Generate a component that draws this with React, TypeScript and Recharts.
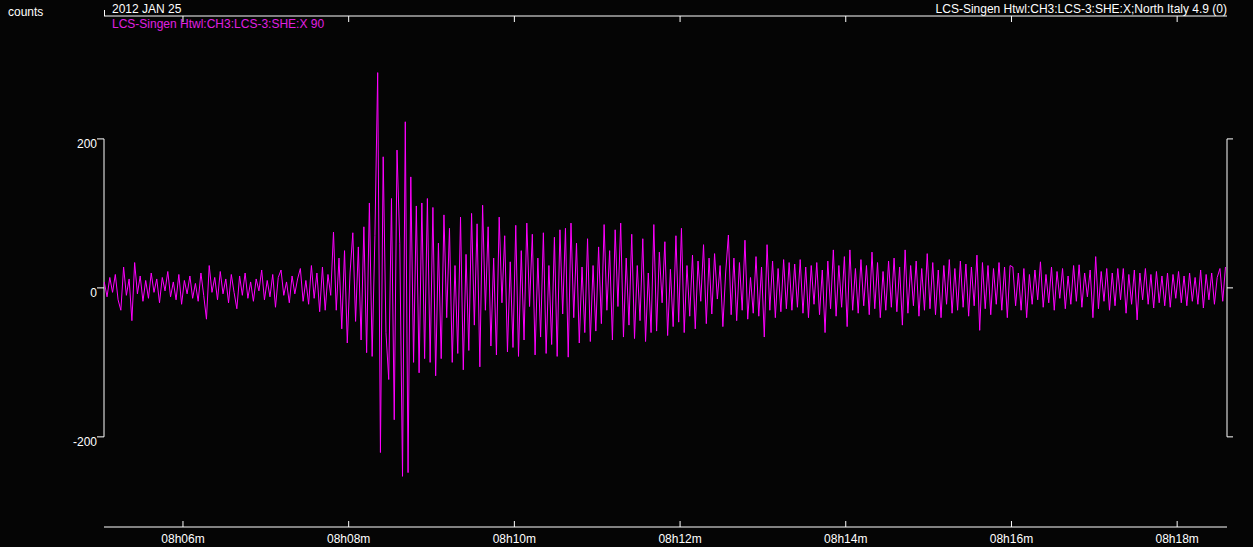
import { LineChart, Line, XAxis, YAxis, ReferenceLine } from "recharts";

// seismogram samples, counts, one every DT seconds
const DT = 2;

// time axis in seconds after 08:00:00
const X_MIN = 302.8;
const X_MAX = 1116.1;
const Y_MIN = -321;
const Y_MAX = 365;

const minuteTicks = [360, 480, 600, 720, 840, 960, 1080];
const minuteLabels = ["08h06m", "08h08m", "08h10m", "08h12m", "08h14m", "08h16m", "08h18m"];
const countTicks = [-200, 0, 200];
const countLabels = ["-200", "0", "200"];

const preEvent = [
  8, -12, 14, -6, 18, -16, -30, 28, -10, 12,
  -44, 34, -8, 16, -18, 10, -14, 20, -6, 12,
  -20, 14, -4, 22, -12, 8, -16, 18, -22, 10,
  -8, 16, -14, 6, -18, 20, -10, -42, 30, -6,
  14, -16, 22, -8, 12, -20, 18, -6, -28, 16,
  -10, 20, -14, 8, -18, 12, -4, 24, -16, 10,
  -12, 18, -26, 14, 24, -10, 8, -20, 16, -8,
  12, 26, -18, 10, -22, 30, -14, 20, -32, 28,
  -30, 18,
];

const pWave = [-10, 75, -30, 40, -55, 50, -74, 20, 74, -45, 55, -70, 82, -87, 114, -92];

const sWave = [
  70, 289, -221, 176, -60, -123, 120, -177, 185, 60,
  -253, 223, -248, 149, -100, 110, -114, 114, -95, 120,
  -100,
];

const coda1 = [
  108, -118, 60, -95, 98, -40, 80, -100, 30, -88,
  95, -110, 45, -84, 100, -50, 86, -106, 111, -30,
  82, -78, 40, -90, 95, -20, 70, -86, 35, -80,
  84, -92, 50, -70, 87, -25, 72, -90, 40, -66,
  74, -88, 30, -76, 68, -92, 78, -35, 80, -93,
  87, -40, 60, -74, 28, -60, 66, -72, 30, -58,
];

const coda2 = [
  55, -48, 85, -30, 50, -70, 78, -25, 87, -66,
  40, -50, 72, -68, 30, -44, 66, -72, 20, -60,
  85, -58, 48, -20, 62, -64, 25, -52, 70, -46,
  80, -60, 30, -38, 44, -55, 36, -18, 58, -48,
  40, -35, 46, -15, 30, -52, 20, 71, -36, 40,
  -44, 34, -30, 64, -42, 14, -34, 42, -38, 28,
  -66, 58, -30, 36, -40, 26, -32, 38, -28, 34,
];

const coda3 = [
  -30, 32, -26, 38, -34, 28, -40, 30, -22, 34,
  -36, 24, -60, 36, -28, 51, -38, 30, -26, 42,
  -52, 51, -30, 26, -34, 38, -24, 30, -36, 48,
  -28, 34, -40, 22, -30, 36, -26, 40, -32, 28,
  -50, 51, -34, 30, -24, 36, -38, 26, -30, 46,
  -28, 34, -36, 24, -40, 30, -22, 38, -34, 26,
  -30, 36, -26, 32, -38, 28, -24, 44, -57, 34,
  -28, 30, -36, 26, -22, 34, -30, 28, -40, 30,
];

const tail = [
  28, -24, 20, -30, 26, -40, 18, -22, 24, -16,
  35, -26, 18, -20, 28, -30, 22, -14, 26, -28,
  16, -22, 30, -18, 31, -26, 20, -12, 24, -40,
  42, -28, 22, -18, 26, -30, 20, -24, 26, -16,
  26, -34, 18, -22, 24, -43, 20, -16, 26, -22,
  18, -27, 22, -20, 16, -24, 20, -26, 18, -14,
  22, -20, 16, -24, 20, -18, 14, -22, 24, -27,
  18, -16, 20, -22, 14, 26, -18, 28,
];

// start time (s after 08:00) of each block of samples
const segments: [number, number[]][] = [
  [303, preEvent],
  [467, pWave],
  [499, sWave],
  [541, coda1],
  [661, coda2],
  [801, coda3],
  [961, tail],
];

const data = segments.flatMap(([start, values]) =>
  values.map((v, i) => ({ t: start + i * DT, counts: v }))
);

const FONT = "'Liberation Sans', Arial, sans-serif";
const WHITE = "#ffffff";
const MAGENTA = "#ff00ff";

function minuteLabel(value: number) {
  return minuteLabels[minuteTicks.indexOf(value)] ?? "";
}

function countLabel(value: number) {
  return countLabels[countTicks.indexOf(value)] ?? String(value);
}

const BottomTick = (props: any) => {
  const { x, y, payload } = props;
  return (
    <g>
      <line x1={x} x2={x} y1={y} y2={y - 6} stroke={WHITE} />
      <text x={x} y={y + 16} textAnchor="middle" fill={WHITE} fontSize={12} fontFamily={FONT}>
        {minuteLabel(payload.value)}
      </text>
    </g>
  );
};

const TopTick = (props: any) => {
  const { x, y } = props;
  return <line x1={x} x2={x} y1={y} y2={y + 6} stroke={WHITE} />;
};

const LeftTick = (props: any) => {
  const { x, y, payload } = props;
  return (
    <g>
      <line x1={x - 7} x2={x} y1={y} y2={y} stroke={WHITE} />
      <text x={x - 7} y={y + 9} textAnchor="end" fill={WHITE} fontSize={12} fontFamily={FONT}>
        {countLabel(payload.value)}
      </text>
    </g>
  );
};

const RightTick = (props: any) => {
  const { x, y } = props;
  return <line x1={x} x2={x + 6} y1={y} y2={y} stroke={WHITE} />;
};

export default function App() {
  return (
    <div style={{ position: "relative", width: 1253, height: 547, background: "#050505", fontFamily: FONT }}>
      <style>{"body{margin:0;background:#050505}"}</style>
      <LineChart width={1253} height={547} data={data} margin={{ top: 0, right: 0, bottom: 0, left: 0 }}>
        <XAxis
          dataKey="t"
          type="number"
          domain={[X_MIN, X_MAX]}
          allowDataOverflow
          ticks={minuteTicks}
          interval={0}
          height={20}
          axisLine={{ stroke: WHITE }}
          tickLine={false}
          tickSize={0}
          tickMargin={0}
          tick={BottomTick}
        />
        <XAxis
          xAxisId="top"
          orientation="top"
          dataKey="t"
          type="number"
          domain={[X_MIN, X_MAX]}
          allowDataOverflow
          ticks={minuteTicks}
          interval={0}
          height={16}
          axisLine={{ stroke: WHITE }}
          tickLine={false}
          tickSize={0}
          tickMargin={0}
          tick={TopTick}
        />
        <YAxis
          type="number"
          domain={[Y_MIN, Y_MAX]}
          allowDataOverflow
          ticks={countTicks}
          interval={0}
          width={104}
          axisLine={false}
          tickLine={false}
          tickSize={0}
          tickMargin={0}
          tick={LeftTick}
        />
        <YAxis
          yAxisId="right"
          orientation="right"
          type="number"
          domain={[Y_MIN, Y_MAX]}
          allowDataOverflow
          ticks={countTicks}
          interval={0}
          width={26}
          axisLine={false}
          tickLine={false}
          tickSize={0}
          tickMargin={0}
          tick={RightTick}
        />
        <ReferenceLine
          segment={[{ x: X_MIN, y: -200 }, { x: X_MIN, y: 200 }]}
          stroke={WHITE}
          ifOverflow="visible"
        />
        <ReferenceLine
          segment={[{ x: X_MAX, y: -200 }, { x: X_MAX, y: 200 }]}
          stroke={WHITE}
          ifOverflow="visible"
        />
        <Line
          type="linear"
          dataKey="counts"
          stroke={MAGENTA}
          strokeWidth={1}
          dot={false}
          activeDot={false}
          isAnimationActive={false}
        />
      </LineChart>
      <svg
        width={1253}
        height={547}
        style={{ position: "absolute", left: 0, top: 0, pointerEvents: "none" }}
      >
        <text x={8} y={16} fill={WHITE} fontSize={12} fontFamily={FONT}>counts</text>
        <line x1={104.5} x2={104.5} y1={10} y2={16} stroke={WHITE} />
        <text x={112} y={13} fill={WHITE} fontSize={12} fontFamily={FONT}>2012 JAN 25</text>
        <text x={1227} y={13} textAnchor="end" fill={WHITE} fontSize={12} fontFamily={FONT}>
          LCS-Singen Htwl:CH3:LCS-3:SHE:X;North Italy 4.9 (0)
        </text>
        <text x={112} y={28} fill="#e020e0" fontSize={12} fontFamily={FONT}>
          LCS-Singen Htwl:CH3:LCS-3:SHE:X 90
        </text>
      </svg>
    </div>
  );
}
